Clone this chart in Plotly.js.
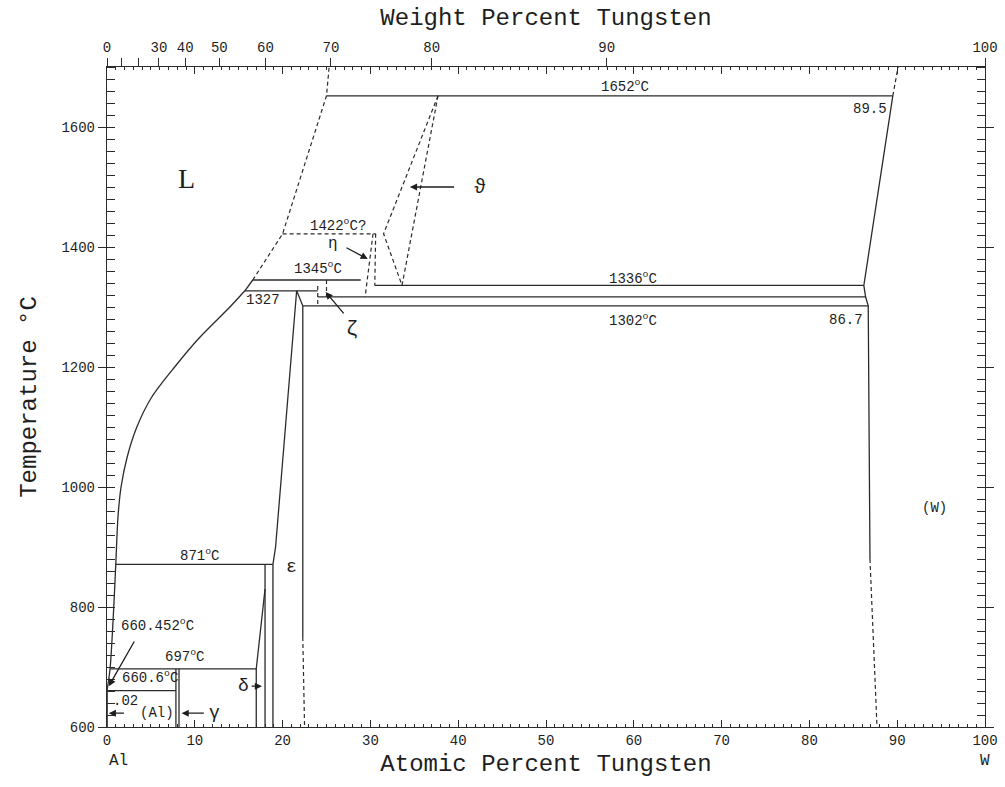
<!DOCTYPE html>
<html>
<head>
<meta charset="utf-8">
<script src="https://cdn.plot.ly/plotly-3.0.1.min.js"></script>
<style>html,body{margin:0;padding:0;background:#fff;}#chart{width:1005px;height:787px;}</style>
</head>
<body>
<div id="chart"></div>
<script>
// ---------- data (at.% W, temperature °C) ----------
// Al-rich liquidus (smooth curve)
const liqAlX = [0, 0.35, 0.7, 1.0, 1.25, 1.6, 2.3, 3.4, 5.1, 7.7, 10.6, 14.0, 15.7];
const liqAlT = [660.452, 697, 780, 871, 950, 1000, 1050, 1100, 1150, 1200, 1250, 1300, 1327];
const liqJoinX = [15.7, 16.6], liqJoinT = [1327, 1345];
// upper (estimated) liquidus, dashed
const liqUpX = [16.6, 20.0, 25.0, 25.3];
const liqUpT = [1345, 1422, 1652, 1700];
// invariant (horizontal) lines
const isoT  = [1652, 1345, 1336, 1327, 1317, 1302, 871, 697, 660.6];
const isoX0 = [25.0, 16.6, 30.5, 15.7, 24.0, 22.3, 1.0, 0.35, 0.02];
const isoX1 = [89.5, 28.9, 86.2, 24.0, 86.4, 86.7, 18.9, 17.0, 7.85];
// dashed invariant
const iso1422X = [20.0, 30.6];
const iso1422T = [1422, 1422];
// solid phase boundaries
const alSolX = [0.02, 0.02],         alSolT = [660.452, 600];
const gamLX = [7.85, 7.85],          gamLT = [697, 600];
const gamRX = [8.2, 8.2],            gamRT = [697, 600];
const delLX = [17.0, 17.0, 18.0],    delLT = [600, 697, 830];
const delRX = [18.0, 18.0],          delRT = [871, 600];
const epsLX = [21.6, 20.9, 20.1, 19.2, 18.9, 18.9];
const epsLT = [1327, 1200, 1050, 900, 871, 600];
const epsRX = [21.6, 22.3, 22.3],    epsRT = [1327, 1302, 750];
const wSolX = [89.5, 86.2, 86.4, 86.7, 86.9];
const wSolT = [1652, 1336, 1317, 1302, 880];
// dashed phase boundaries
const epsRdX = [22.3, 22.5],         epsRdT = [750, 600];
const wSolDX = [86.9, 87.7],         wSolDT = [880, 600];
const wLiqDX = [89.5, 90.1],         wLiqDT = [1652, 1700];
const etaLX = [30.3, 29.4],          etaLT = [1422, 1317];
const etaRX = [30.6, 30.5],          etaRT = [1422, 1336];
const theLX = [37.7, 31.5, 33.6],    theLT = [1652, 1422, 1336];
const theRX = [37.7, 33.6],          theRT = [1652, 1336];
const zetLX = [24.0, 24.0],          zetLT = [1335, 1305];
const zetRX = [25.0, 25.0],          zetRT = [1345, 1317];

// axis ticks
const atTicks = [0, 10, 20, 30, 40, 50, 60, 70, 80, 90, 100];
const wtTicks = [0, 10, 20, 30, 40, 50, 60, 70, 80, 90, 100];
const wtLabels = ['0', '', '', '30', '40', '50', '60', '70', '80', '90', '100'];
const massAl = 26.98, massW = 183.84;

// text labels
const labText = ['L', '1652<sup>o</sup>C', '89.5', '1422<sup>o</sup>C?', 'η', '1345<sup>o</sup>C', '1336<sup>o</sup>C',
  '1327', '1302<sup>o</sup>C', '86.7', 'ζ', 'ϑ', '871<sup>o</sup>C', 'ε', '660.452<sup>o</sup>C', '697<sup>o</sup>C',
  '660.6<sup>o</sup>C', 'δ', '.02', '(Al)', 'γ', '(W)'];
const labX = [9.1, 59.0, 86.9, 26.3, 25.7, 24.0, 59.9, 17.8, 59.9, 84.2, 27.9, 42.5, 10.6, 21.0, 5.8, 8.9, 4.9, 15.6, 2.1, 5.7, 12.2, 94.2];
const labT = [1515, 1668, 1630, 1437, 1405, 1365, 1348, 1312, 1278, 1278, 1263, 1500, 887, 867, 770, 718, 683, 668, 643, 623, 623, 965];
const labSize = [28, 14, 14, 14, 16, 14, 14, 14, 14, 14, 20, 20, 14, 18, 14, 14, 14, 18, 14, 14, 18, 14];

// arrows: tail -> head
const arrTailX = [39.7, 27.1, 27.1, 3.2, 16.3, 2.1, 11.2];
const arrTailT = [1500, 1400, 1287, 745, 668, 623, 623];
const arrHeadX = [34.5, 29.7, 24.9, 0.2, 17.65, 0.2, 8.5];
const arrHeadT = [1500, 1380, 1325, 668, 668, 623, 623];

// ---------- build ----------
const wtToAt = w => {
  if (w >= 100) return 100;
  const nW = w / massW, nAl = (100 - w) / massAl;
  return 100 * nW / (nW + nAl);
};
const lineCol = '#2b2b2b';
const solid = (x, y) => ({type: 'scatter', mode: 'lines', x: x, y: y, line: {color: lineCol, width: 1.3}, hoverinfo: 'skip', showlegend: false});
const dashed = (x, y) => ({type: 'scatter', mode: 'lines', x: x, y: y, line: {color: lineCol, width: 1.2, dash: '4px,3px'}, hoverinfo: 'skip', showlegend: false});

const traces = [];
const liq = solid(liqAlX, liqAlT);
liq.line.shape = 'spline';
liq.line.smoothing = 0.8;
traces.push(liq);
traces.push(solid(liqJoinX, liqJoinT));
traces.push(dashed(liqUpX, liqUpT));
for (let i = 0; i < isoT.length; i++) traces.push(solid([isoX0[i], isoX1[i]], [isoT[i], isoT[i]]));
traces.push(dashed(iso1422X, iso1422T));
[[alSolX, alSolT], [gamLX, gamLT], [gamRX, gamRT], [delLX, delLT], [delRX, delRT], [epsLX, epsLT], [epsRX, epsRT], [wSolX, wSolT]]
  .forEach(p => traces.push(solid(p[0], p[1])));
[[epsRdX, epsRdT], [wSolDX, wSolDT], [wLiqDX, wLiqDT], [etaLX, etaLT], [etaRX, etaRT], [theLX, theLT], [theRX, theRT], [zetLX, zetLT], [zetRX, zetRT]]
  .forEach(p => traces.push(dashed(p[0], p[1])));
// carrier for top weight-percent axis
traces.push({type: 'scatter', mode: 'lines', x: [], y: [], xaxis: 'x2', yaxis: 'y', showlegend: false, hoverinfo: 'skip'});

const mono = 'Liberation Mono, Courier New, monospace';
const ann = [];
for (let i = 0; i < labText.length; i++) {
  ann.push({x: labX[i], y: labT[i], xref: 'x', yref: 'y', text: labText[i], showarrow: false,
    font: {family: i === 0 ? 'Liberation Serif, serif' : mono, size: labSize[i], color: '#1e1e1e'}});
}
for (let i = 0; i < arrTailX.length; i++) {
  ann.push({x: arrHeadX[i], y: arrHeadT[i], xref: 'x', yref: 'y', ax: arrTailX[i], ay: arrTailT[i], axref: 'x', ayref: 'y',
    text: '', showarrow: true, arrowhead: 2, arrowsize: 1.1, arrowwidth: 1.3, arrowcolor: '#1e1e1e'});
}
ann.push({x: 0, y: -0.068, xref: 'x', yref: 'paper', text: 'Al', showarrow: false, xanchor: 'left', font: {family: mono, size: 16, color: '#1e1e1e'}});
ann.push({x: 100, y: -0.068, xref: 'x', yref: 'paper', text: 'W', showarrow: false, font: {family: mono, size: 16, color: '#1e1e1e'}});

const layout = {
  width: 1005, height: 787,
  margin: {l: 107, r: 20, t: 67, b: 60},
  paper_bgcolor: '#fff', plot_bgcolor: '#fff',
  showlegend: false,
  font: {family: mono, color: '#1e1e1e'},
  xaxis: {
    range: [0, 100], tickmode: 'array', tickvals: atTicks, ticks: 'inside', ticklen: 7, tickwidth: 1, tickcolor: lineCol,
    minor: {dtick: 1, tick0: 0, ticks: 'inside', ticklen: 3, tickcolor: lineCol, showgrid: false},
    showline: true, linecolor: lineCol, linewidth: 1.2, mirror: 'allticks', showgrid: false, zeroline: false,
    tickfont: {family: mono, size: 14, color: '#1e1e1e'},
    title: {text: 'Atomic Percent Tungsten', font: {family: mono, size: 24, color: '#1e1e1e'}, standoff: 6}
  },
  xaxis2: {
    overlaying: 'x', side: 'top', range: [0, 100], tickmode: 'array', tickvals: wtTicks.map(wtToAt), ticktext: wtLabels,
    ticks: 'outside', ticklen: 8, tickwidth: 1, tickcolor: lineCol, showline: false, showgrid: false, zeroline: false,
    tickfont: {family: mono, size: 14, color: '#1e1e1e'},
    title: {text: 'Weight Percent Tungsten', font: {family: mono, size: 24, color: '#1e1e1e'}, standoff: 8}
  },
  yaxis: {
    range: [600, 1700], tickmode: 'linear', tick0: 600, dtick: 200, ticks: 'outside', ticklen: 8, tickwidth: 1, tickcolor: lineCol,
    minor: {dtick: 20, tick0: 600, ticks: 'inside', ticklen: 4, tickcolor: lineCol, showgrid: false},
    showline: true, linecolor: lineCol, linewidth: 1.2, mirror: 'allticks', showgrid: false, zeroline: false,
    tickfont: {family: mono, size: 14, color: '#1e1e1e'},
    title: {text: 'Temperature °C', font: {family: mono, size: 24, color: '#1e1e1e'}, standoff: 18}
  },
  annotations: ann
};

Plotly.newPlot('chart', traces, layout, {staticPlot: true, displayModeBar: false});
</script>
</body>
</html>
